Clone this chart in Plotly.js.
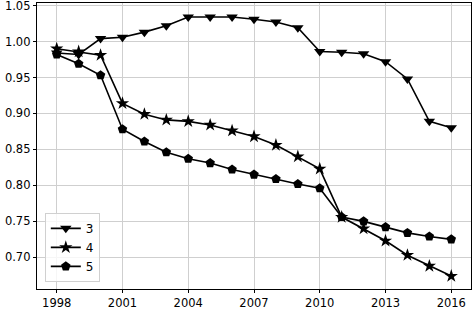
<!DOCTYPE html>
<html>
<head>
<meta charset="utf-8">
<script src="https://cdn.plot.ly/plotly-3.0.1.min.js"></script>
<style>html,body{margin:0;padding:0;background:#fff;}#chart{width:472px;height:309px;}</style>
</head>
<body>
<div id="chart"></div>
<script>
var years = [1998,1999,2000,2001,2002,2003,2004,2005,2006,2007,2008,2009,2010,2011,2012,2013,2014,2015,2016];
var series3 = [0.984,0.982,1.004,1.006,1.013,1.022,1.034,1.034,1.034,1.031,1.027,1.019,0.986,0.985,0.983,0.972,0.948,0.889,0.880];
var series4 = [0.990,0.986,0.981,0.914,0.899,0.891,0.889,0.884,0.876,0.868,0.856,0.840,0.823,0.756,0.740,0.723,0.703,0.688,0.674];
var series5 = [0.982,0.969,0.953,0.878,0.861,0.846,0.837,0.831,0.822,0.815,0.809,0.802,0.796,0.756,0.750,0.742,0.734,0.729,0.725];
var seriesNames = ['3','4','5'];
var xTicks = [1998,2001,2004,2007,2010,2013,2016];
var yTicks = [0.70,0.75,0.80,0.85,0.90,0.95,1.00,1.05];

function tr(y, name, sym, size) {
  return {x: years, y: y, name: name, mode: 'lines+markers', type: 'scatter',
    line: {color: '#000', width: 1.6},
    marker: {symbol: sym, size: size, color: '#000'}};
}
var data = [
  tr(series3, seriesNames[0], 'triangle-down', 10),
  tr(series4, seriesNames[1], 'star', 10),
  tr(series5, seriesNames[2], 'pentagon', 10)
];
var axisCommon = {
  showline: true, mirror: true, linecolor: '#000', linewidth: 1.2,
  ticks: 'outside', ticklen: 3, tickcolor: '#000', tickwidth: 1,
  showgrid: true, gridcolor: '#cfcfcf', gridwidth: 1, zeroline: false,
  ticklabeloverflow: 'allow',
  tickfont: {family: 'DejaVu Sans', size: 11.5, color: '#000'}
};
var layout = {
  width: 472, height: 309,
  margin: {l: 37, r: 1, t: 3, b: 20},
  paper_bgcolor: '#fff', plot_bgcolor: '#fff',
  showlegend: true,
  legend: {x: 0.018, y: 0.025, xanchor: 'left', yanchor: 'bottom',
    bgcolor: 'rgba(255,255,255,0.8)', bordercolor: '#d0d0d0', borderwidth: 1,
    font: {family: 'DejaVu Sans', size: 12, color: '#000'}, itemwidth: 30, tracegroupgap: 0},
  xaxis: Object.assign({}, axisCommon, {range: [1997.1, 2016.9], tickvals: xTicks, ticktext: xTicks.map(String)}),
  yaxis: Object.assign({}, axisCommon, {range: [0.656, 1.0535], tickvals: yTicks, ticktext: yTicks.map(function(v){return v.toFixed(2);})})
};
Plotly.newPlot('chart', data, layout, {displayModeBar: false, staticPlot: true});
</script>
</body>
</html>
